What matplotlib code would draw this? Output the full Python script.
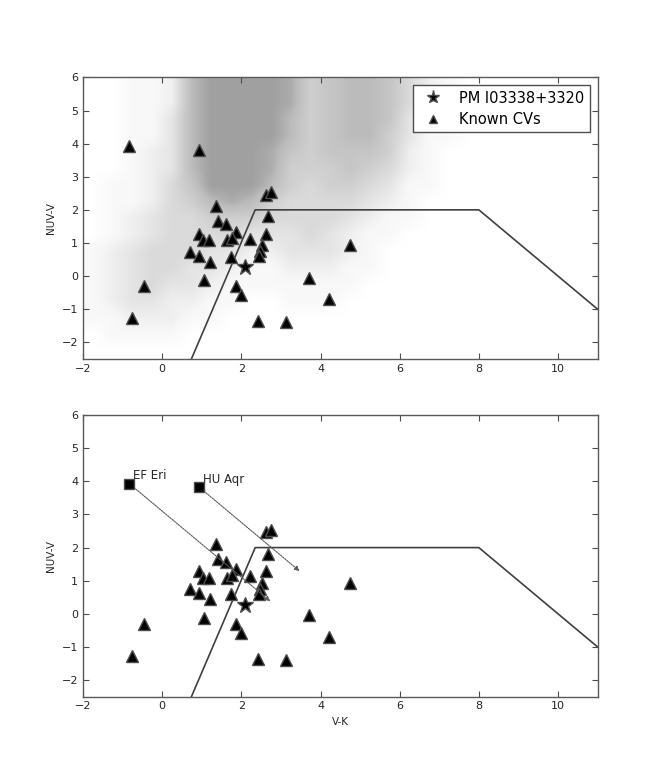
import numpy as np
import matplotlib.pyplot as plt
from matplotlib.colors import LinearSegmentedColormap

# known CVs (V-K, NUV-V)
cv_vk = [2.62, 2.75, 1.37, 1.40, 1.61, 2.67, 0.94, 1.04, 1.19, 1.86, 1.65,
         1.77, 2.23, 2.62, 2.52, 2.47, 2.44, 0.71, 0.92, 1.21, 1.74, 4.75,
         1.06, -0.46, 1.86, 1.98, 3.71, 4.22, -0.77, 2.41, 3.13]
cv_nuvv = [2.46, 2.54, 2.11, 1.66, 1.58, 1.82, 1.28, 1.08, 1.08, 1.34, 1.08,
           1.16, 1.13, 1.28, 0.93, 0.76, 0.61, 0.74, 0.62, 0.44, 0.59, 0.93,
           -0.12, -0.31, -0.31, -0.57, -0.05, -0.70, -1.27, -1.35, -1.40]

# the two CVs labelled in the lower panel
named_cv = ["EF Eri", "HU Aqr"]
named_vk = [-0.83, 0.94]
named_nuvv = [3.93, 3.82]
# where the arrows point
shift_vk = [2.73, 3.47]
shift_nuvv = [0.38, 1.29]

# the new object
pm_vk = [2.10]
pm_nuvv = [0.28]

# selection box
box_vk = [0.74, 2.35, 8.0, 11.0]
box_nuvv = [-2.5, 2.0, 2.0, -1.0]

# field stars: rough density (0 = empty, 9 = solid),
# cells 0.5 x 0.5 mag, V-K from -2 to 11, NUV-V from 6 (top row) down to -2.5
field_density = [
    [0, 0, 1, 1, 2, 7, 9, 9, 9, 9, 8, 5, 6, 7, 7, 6, 4, 2, 1, 0, 0, 0, 0, 0, 0, 0],
    [0, 0, 1, 1, 2, 7, 9, 9, 9, 9, 8, 5, 6, 7, 7, 6, 4, 2, 1, 0, 0, 0, 0, 0, 0, 0],
    [0, 0, 1, 1, 3, 7, 9, 9, 9, 9, 7, 5, 6, 7, 7, 6, 3, 2, 1, 0, 0, 0, 0, 0, 0, 0],
    [0, 0, 1, 1, 3, 7, 9, 9, 9, 9, 7, 5, 6, 7, 7, 5, 3, 1, 1, 0, 0, 0, 0, 0, 0, 0],
    [0, 0, 1, 2, 3, 7, 9, 9, 9, 8, 6, 5, 6, 6, 6, 5, 2, 1, 0, 0, 0, 0, 0, 0, 0, 0],
    [0, 0, 1, 2, 3, 7, 9, 9, 9, 8, 5, 5, 5, 6, 5, 4, 2, 1, 0, 0, 0, 0, 0, 0, 0, 0],
    [0, 1, 1, 2, 4, 6, 9, 9, 9, 7, 5, 4, 5, 5, 4, 3, 1, 1, 0, 0, 0, 0, 0, 0, 0, 0],
    [0, 1, 1, 2, 4, 5, 7, 8, 7, 5, 4, 4, 4, 4, 3, 2, 1, 0, 0, 0, 0, 0, 0, 0, 0, 0],
    [0, 1, 2, 3, 4, 4, 5, 5, 5, 4, 4, 4, 4, 3, 2, 1, 1, 0, 0, 0, 0, 0, 0, 0, 0, 0],
    [0, 1, 2, 3, 4, 4, 4, 4, 3, 3, 3, 4, 3, 2, 1, 1, 0, 0, 0, 0, 0, 0, 0, 0, 0, 0],
    [1, 2, 3, 4, 4, 4, 3, 3, 2, 2, 3, 3, 3, 2, 1, 0, 0, 0, 0, 0, 0, 0, 0, 0, 0, 0],
    [1, 2, 3, 4, 4, 3, 3, 2, 1, 1, 2, 2, 2, 1, 1, 0, 0, 0, 0, 0, 0, 0, 0, 0, 0, 0],
    [1, 2, 3, 4, 3, 3, 2, 1, 1, 1, 1, 1, 1, 1, 0, 0, 0, 0, 0, 0, 0, 0, 0, 0, 0, 0],
    [1, 2, 3, 3, 2, 2, 1, 1, 0, 0, 1, 1, 1, 0, 0, 0, 0, 0, 0, 0, 0, 0, 0, 0, 0, 0],
    [1, 1, 2, 2, 2, 1, 1, 0, 0, 0, 0, 0, 0, 0, 0, 0, 0, 0, 0, 0, 0, 0, 0, 0, 0, 0],
    [0, 1, 1, 1, 1, 0, 0, 0, 0, 0, 0, 0, 0, 0, 0, 0, 0, 0, 0, 0, 0, 0, 0, 0, 0, 0],
    [0, 0, 0, 0, 0, 0, 0, 0, 0, 0, 0, 0, 0, 0, 0, 0, 0, 0, 0, 0, 0, 0, 0, 0, 0, 0],
]


def style_axes(ax):
    ax.set_xlim(-2, 11)
    ax.set_ylim(-2.5, 6)
    ax.set_xticks(range(-2, 11, 2))
    ax.set_yticks(range(-2, 7))
    ax.tick_params(direction='in', top=True, right=True, length=4,
                   labelsize=8, color='0.3', labelcolor='0.15')
    for s in ax.spines.values():
        s.set_color('0.35')
        s.set_linewidth(1.0)
    ax.set_ylabel("NUV-V", fontsize=7.5, color='0.15')
    ax.plot(box_vk, box_nuvv, color='0.25', lw=1.2, zorder=2)


fig = plt.figure(figsize=(6.64, 7.74), dpi=100)
fig.subplots_adjust(left=0.125, right=0.9, bottom=0.1, top=0.9, hspace=0.2)

# top panel
ax1 = fig.add_subplot(211)
# speckled areas average out light, the saturated core is flat #a0a0a0
grey = LinearSegmentedColormap.from_list(
    "fog", [(0.0, "#ffffff"), (0.15, "#f6f6f6"), (0.35, "#e3e3e3"),
            (0.6, "#cbcbcb"), (0.78, "#bcbcbc"), (0.89, "#acacac"),
            (1.0, "#a0a0a0")])
ax1.imshow(np.array(field_density), cmap=grey, vmin=0, vmax=9,
           extent=[-2, 11, -2.5, 6], aspect='auto', interpolation='bilinear',
           zorder=0)
ax1.plot(pm_vk, pm_nuvv, linestyle='none', marker='*', ms=12, color='black',
         mec='0.3', label="PM I03338+3320", zorder=4)
ax1.plot(cv_vk + named_vk, cv_nuvv + named_nuvv, linestyle='none', marker='^',
         ms=8, color='black', mec='0.3', label="Known CVs", zorder=3)
style_axes(ax1)
leg = ax1.legend(loc='upper right', numpoints=1, fontsize=10.5, markerscale=0.8,
                 fancybox=False, framealpha=1, borderaxespad=0.55,
                 handlelength=2.0, handletextpad=0.8, labelspacing=0.45,
                 borderpad=0.35)
leg.get_frame().set_edgecolor('0.3')
leg.get_frame().set_linewidth(1.0)

# bottom panel
ax2 = fig.add_subplot(212)
ax2.plot(pm_vk, pm_nuvv, linestyle='none', marker='*', ms=12, color='black',
         mec='0.3', zorder=4)
ax2.plot(cv_vk, cv_nuvv, linestyle='none', marker='^', ms=8, color='black',
         mec='0.3', zorder=3)
ax2.plot(named_vk, named_nuvv, linestyle='none', marker='s', ms=7.5,
         color='black', mec='0.3', zorder=4)
for name, x0, y0, x1, y1 in zip(named_cv, named_vk, named_nuvv, shift_vk, shift_nuvv):
    ax2.annotate("", xy=(x1, y1), xytext=(x0, y0),
                 arrowprops=dict(arrowstyle='-|>', color='0.35', lw=0.8,
                                 linestyle=(0, (1.5, 1)), shrinkA=4, shrinkB=0,
                                 mutation_scale=7))
    ax2.text(x0 + 0.1, y0 + 0.05, name, fontsize=8.5, color='0.15',
             ha='left', va='bottom')
style_axes(ax2)
ax2.set_xlabel("V-K", fontsize=7.5, color='0.15')

fig.savefig("out.png", dpi=100, facecolor='white')
